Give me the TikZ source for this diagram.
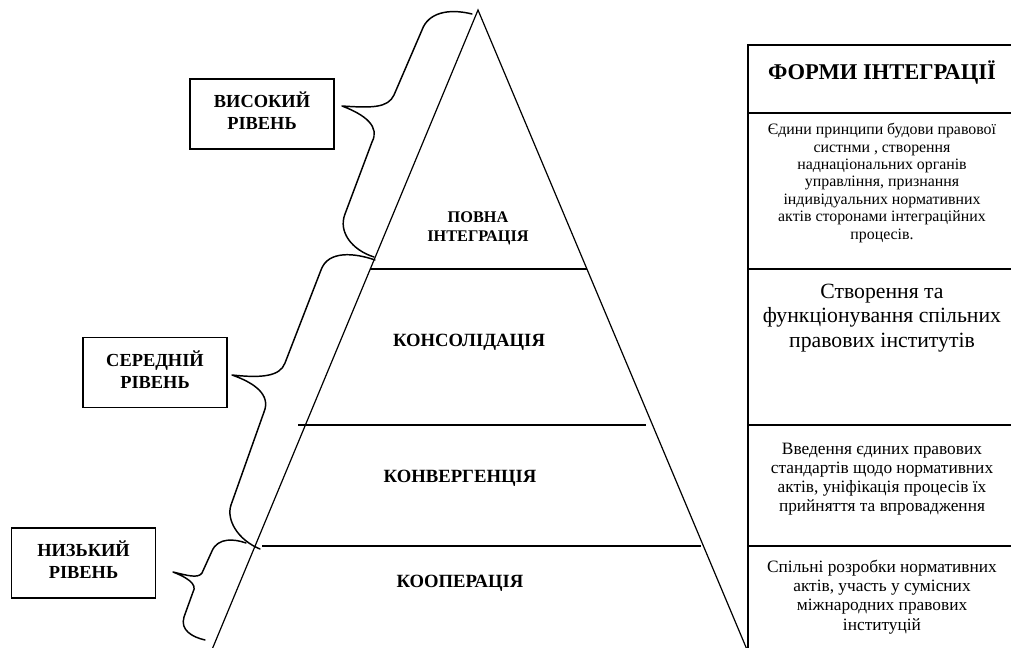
\documentclass[tikz,border=0pt]{standalone}
\usepackage{fontspec}
\setmainfont{Liberation Serif}
\begin{document}
\begin{tikzpicture}[x=0.75pt,y=-0.75pt,
  pline/.style={line width=0.9pt},
  colline/.style={line width=1.3pt},
  lvlbox/.style={draw, line width=1.1pt, minimum width=108pt, minimum height=52.5pt, inner sep=0pt, align=center, text depth=4.8pt, font=\fontsize{13.8}{16.5}\selectfont\bfseries},
  bracepath/.style={line width=1.1pt, line cap=round, line join=round},
  layer/.style={inner sep=0pt, align=center, font=\fontsize{14}{16}\selectfont\bfseries},
  formhead/.style={inner sep=0pt, font=\fontsize{16.9}{19}\selectfont\bfseries},
  formsmall/.style={inner sep=0pt, align=center, font=\fontsize{11.9}{13.1}\selectfont},
  formmid/.style={inner sep=0pt, align=center, font=\fontsize{13}{14.4}\selectfont},
  formbig/.style={inner sep=0pt, align=center, font=\fontsize{16.3}{18.4}\selectfont}
]
\useasboundingbox (0,0) rectangle (1011,647);
\clip (0,0) rectangle (1011,647);

% pyramid
\coordinate (apex) at (478,10);
\coordinate (lb) at (211,652);
\coordinate (rb) at (748,652);
\draw[pline, line join=miter] (lb) -- (apex) -- (rb);
\coordinate (h1l) at (370,269); \coordinate (h1r) at (587,269);
\coordinate (h2l) at (298,425); \coordinate (h2r) at (646,425);
\coordinate (h3l) at (262,546); \coordinate (h3r) at (701,546);
\draw[pline] (h1l) -- (h1r);
\draw[pline] (h2l) -- (h2r);
\draw[pline] (h3l) -- (h3r);

\node[layer, font=\fontsize{12.2}{14.3}\selectfont\bfseries] (full) at (478,228) {ПОВНА\\ІНТЕГРАЦІЯ};
\node[layer] (cons) at (469,342) {КОНСОЛІДАЦІЯ};
\node[layer] (conv) at (460,478.5) {КОНВЕРГЕНЦІЯ};
\node[layer] (coop) at (460,583.5) {КООПЕРАЦІЯ};

% level boxes
\node[lvlbox] (high) at (262,114) {ВИСОКИЙ\\РІВЕНЬ};
\node[lvlbox] (mid) at (155,372.5) {СЕРЕДНІЙ\\РІВЕНЬ};
\node[lvlbox] (low) at (83.5,563) {НИЗЬКИЙ\\РІВЕНЬ};

% braces
\draw[bracepath] (472,14) .. controls (448,8) and (428,13) .. (422,30) -- (394,95)
  .. controls (388,108) and (372,108) .. (342,106)
  .. controls (366,115) and (380,127) .. (372,142) -- (345,214)
  .. controls (338,232) and (352,250) .. (374,257);
\draw[bracepath] (375,260) .. controls (355,253) and (328,250) .. (321,270) -- (285,363)
  .. controls (280,377) and (260,378) .. (232,375)
  .. controls (255,383) and (271,395) .. (264,412) -- (231,505)
  .. controls (226,520) and (238,540) .. (260,549);
\draw[bracepath] (246,543) .. controls (235,539) and (218,537) .. (212,551) -- (202,573)
  .. controls (198,579) and (186,575) .. (173,572)
  .. controls (186,577) and (198,584) .. (193,592) -- (184,617)
  .. controls (180,630) and (192,637) .. (205,640);

% forms column
\coordinate (ctl) at (748,45); \coordinate (ctr) at (1016,45);
\coordinate (cbl) at (748,652);
\draw[colline] (cbl) -- (ctl) -- (ctr);
\foreach \yy in {113,269,425,546} \draw[colline] (748,\yy) -- (1016,\yy);

\node[formhead] (fhead) at (882,73) {ФОРМИ ІНТЕГРАЦІЇ};
\node[formsmall] (f1) at (882,183) {Єдини принципи будови правової\\систнми , створення\\наднаціональних органів\\управління, признання\\індивідуальних нормативних\\актів сторонами інтеграційних\\процесів.};
\node[formbig] (f2) at (882,318) {Створення та\\функціонування спільних\\правових інститутів};
\node[formmid] (f3) at (882,479) {Введення єдиних правових\\стандартів щодо нормативних\\актів, уніфікація процесів їх\\прийняття та впровадження};
\node[formmid] (f4) at (882,597) {Спільні розробки нормативних\\актів, участь у сумісних\\міжнародних правових\\інституцій};
\end{tikzpicture}
\end{document}
